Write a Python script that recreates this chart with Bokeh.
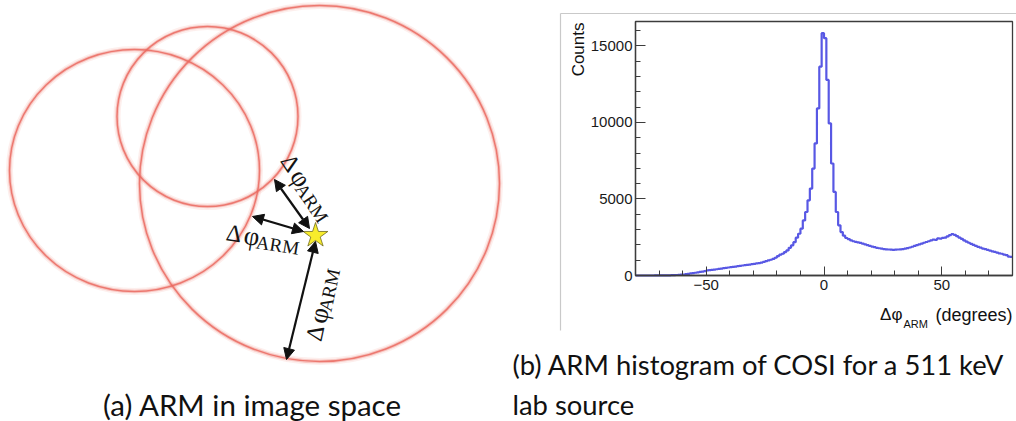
import math

from bokeh.core.properties import value
from bokeh.embed import file_html
from bokeh.models import (Arrow, ColumnDataSource, CustomJSTickFormatter, LinearAxis,
                          NormalHead, Range1d, SingleIntervalTicker)
from bokeh.plotting import figure
from bokeh.resources import INLINE

# ---------------------------------------------------------------- data
# ARM histogram, 1 degree bins from -80 to 80 (left edges -80 ... 79)
arm_bin_left = list(range(-80, 80))
arm_counts = [
    0, 0, 0, 0, 0, 0, 1, 0, 2, 3, 4, 6, 8, 10, 14, 18, 24, 32, 42, 53,
    65, 90, 112, 135, 158, 180, 205, 232, 258, 285, 330, 345, 365, 385, 410, 435, 455, 478, 500, 522,
    545, 565, 585, 608, 632, 655, 672, 690, 712, 738, 765, 790, 808, 845, 890, 940, 985, 1030, 1080, 1160,
    1270, 1360, 1420, 1530, 1640, 1810, 1970, 2180, 2470, 2730, 3060, 3600, 4150, 4915, 5680, 6990, 8630, 10920, 13650, 15840,
    15510, 12780, 9940, 7320, 5460, 4150, 3280, 2840, 2600, 2450, 2380, 2300, 2240, 2200, 2160, 2130, 2080, 2030, 1980, 1930,
    1890, 1850, 1810, 1780, 1750, 1730, 1710, 1700, 1690, 1680, 1690, 1700, 1710, 1730, 1750, 1790, 1830, 1880, 1930, 1990,
    2040, 2080, 2140, 2190, 2240, 2290, 2340, 2330, 2420, 2410, 2460, 2480, 2560, 2640, 2700, 2660, 2570, 2480, 2400, 2300,
    2220, 2140, 2070, 2000, 1930, 1870, 1820, 1760, 1720, 1670, 1630, 1580, 1540, 1500, 1440, 1420, 1360, 1330, 1240, 1220,
]
x_axis_range = [-80, 80]
y_axis_range = [0, 16600]

# Sketch of three Compton event circles (centre x, centre y, width, height),
# in page pixels measured from the top-left corner
circle_cx = [134, 207, 319]
circle_cy = [170, 116, 183]
circle_w = [250, 181, 360]
circle_h = [242, 180, 356]

source_xy = (315, 235)

# ARM arrows: (x0, y0, x1, y1)
arrows = [
    (274, 179, 309, 228),
    (252, 216, 303, 231),
    (315, 241, 286, 359),
]

# Delta-phi label placements: baseline start of the Delta, rotation in degrees
arm_labels = [
    (286.0, 156.0, -56.0),
    (226.0, 231.5, -9.0),
    (313.0, 340.0, 78.0),
]

caption_a = "(a) ARM in image space"
caption_b = ["(b) ARM histogram of COSI for a 511 keV", "lab source"]

W, H = 1016, 421

# one canvas; the default ranges are page pixels (y measured upwards)
p = figure(width=W, height=H, x_range=Range1d(0, W), y_range=Range1d(0, H),
           x_axis_type=None, y_axis_type=None, output_backend="svg",
           toolbar_location=None, min_border=0, outline_line_color=None)
p.grid.visible = False


def up(y):
    return H - y


# ---------------------------------------------------------------- left panel
ell = ColumnDataSource(dict(x=circle_cx, y=[up(v) for v in circle_cy], w=circle_w, h=circle_h))
# soft glow underneath a thin salmon stroke
p.ellipse(x="x", y="y", width="w", height="h", source=ell, fill_color=None,
          line_color="#f29a90", line_width=7, line_alpha=0.16)
p.ellipse(x="x", y="y", width="w", height="h", source=ell, fill_color=None,
          line_color="#ef8278", line_width=3.6, line_alpha=0.35)
p.ellipse(x="x", y="y", width="w", height="h", source=ell, fill_color=None,
          line_color="#ea6a60", line_width=1.5, line_alpha=0.85)

for x0, y0, x1, y1 in arrows:
    p.add_layout(Arrow(x_start=x0, y_start=up(y0), x_end=x1, y_end=up(y1),
                       line_color="#111111", line_width=2.2,
                       start=NormalHead(size=11, fill_color="#111111", line_color="#111111", line_width=1),
                       end=NormalHead(size=11, fill_color="#111111", line_color="#111111", line_width=1)))

p.scatter(x=[source_xy[0]], y=[up(source_xy[1])], marker="star", size=26,
          fill_color="#f8ec2c", line_color="#6f6a1e", line_width=0.8)

# each label: "Δ", "φ" and a lowered "ARM", laid along the rotated baseline
pieces = [("\u0394", 0.0, 0.0, "24px"), ("\u03c6", 18.0, 0.0, "27px"), ("ARM", 31.0, 5.0, "19px")]
tx, ty, tt, ta, ts = [], [], [], [], []
for px, py, deg in arm_labels:
    th = math.radians(deg)
    ux, uy = math.cos(th), -math.sin(th)
    nx, ny = math.sin(th), math.cos(th)
    for txt, along, down, size in pieces:
        tx.append(px + along * ux + down * nx)
        ty.append(up(py + along * uy + down * ny))
        tt.append(txt)
        ta.append(th)
        ts.append(size)
p.text(x="x", y="y", text="t", angle="a", text_font_size="s",
       source=ColumnDataSource(dict(x=tx, y=ty, t=tt, a=ta, s=ts)),
       text_font=value("Liberation Serif"), text_color="#141414",
       text_align="left", text_baseline="alphabetic")

# ---------------------------------------------------------------- right panel
FRAME_L, FRAME_R, FRAME_T, FRAME_B = 635, 1012, 21, 275
kx = (x_axis_range[1] - x_axis_range[0]) / (FRAME_R - FRAME_L)
ky = (y_axis_range[1] - y_axis_range[0]) / (FRAME_B - FRAME_T)
p.extra_x_ranges = {"arm": Range1d(x_axis_range[0] - FRAME_L * kx,
                                   x_axis_range[1] + (W - FRAME_R) * kx)}
p.extra_y_ranges = {"counts": Range1d(y_axis_range[0] - (H - FRAME_B) * ky,
                                      y_axis_range[1] + FRAME_T * ky)}

# light grey edge of the embedded histogram picture
p.segment(x0=[560, 560], y0=[up(13), up(13)], x1=[560, W + 5], y1=[up(330), up(13)],
          line_color="#c9c9c9", line_width=1.2)

edges = arm_bin_left + [arm_bin_left[-1] + 1]
p.step(x=edges, y=arm_counts + [arm_counts[-1]], mode="after",
       x_range_name="arm", y_range_name="counts",
       line_color="#5858e4", line_width=2.2)

# histogram frame
p.quad(left=[x_axis_range[0]], right=[x_axis_range[1]], bottom=[y_axis_range[0]],
       top=[y_axis_range[1]], x_range_name="arm", y_range_name="counts",
       fill_color=None, line_color="#3c3c3c", line_width=1.3)

xaxis = LinearAxis(x_range_name="arm", y_range_name="counts",
                   fixed_location=y_axis_range[0], bounds=tuple(x_axis_range),
                   ticker=SingleIntervalTicker(interval=50, num_minor_ticks=5),
                   formatter=CustomJSTickFormatter(
                       code="return tick < 0 ? '\\u2212' + Math.abs(tick) : String(tick);"))
yaxis = LinearAxis(x_range_name="arm", y_range_name="counts",
                   fixed_location=x_axis_range[0], bounds=tuple(y_axis_range),
                   ticker=SingleIntervalTicker(interval=5000, num_minor_ticks=5))
for ax in (xaxis, yaxis):
    ax.axis_line_color = "#3c3c3c"
    ax.axis_line_width = 1.3
    ax.major_tick_line_color = "#3c3c3c"
    ax.minor_tick_line_color = "#3c3c3c"
    ax.major_tick_out = 0
    ax.minor_tick_out = 0
    ax.minor_tick_in = 5
    ax.major_label_text_font = "Liberation Sans"
    ax.major_label_text_font_size = "15px"
    ax.major_label_text_color = "#1a1a1a"
xaxis.major_tick_in = 9
yaxis.major_tick_in = 10
xaxis.major_label_standoff = 4
yaxis.major_label_standoff = 3
p.add_layout(xaxis, "below")
p.add_layout(yaxis, "left")


def note(text, x, y, size, font="Liberation Sans", align="left", angle=0.0):
    p.text(x=[x], y=[up(y)], text=[text], angle=angle, text_font=value(font),
           text_font_size=size, text_color="#111111", text_align=align,
           text_baseline="alphabetic")


note("Counts", 578, 22, "17px", align="right", angle=math.pi / 2)
note("\u0394\u03c6", 902, 314, "17px", align="right")
note("ARM", 903, 323, "11px")
note("(degrees)", 1012, 314, "18px", align="right")

# ---------------------------------------------------------------- captions
note(caption_a, 252, 404, "29.5px", font="Lato", align="center")
note(caption_b[0], 512, 364, "27.4px", font="Lato")
note(caption_b[1], 512, 404, "27.4px", font="Lato")

open("out.html", "w").write(file_html(p, INLINE))
